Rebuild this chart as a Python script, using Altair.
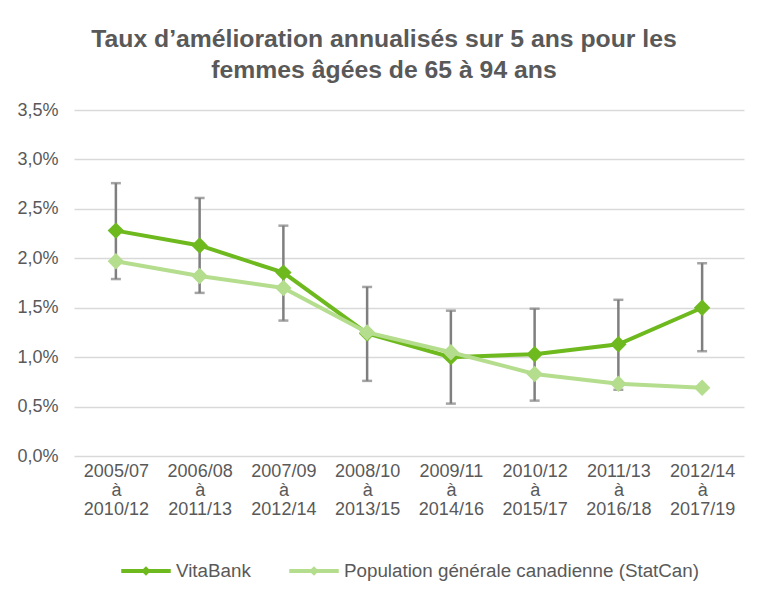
import altair as alt
import pandas as pd

categories = ["2005/07 à 2010/12", "2006/08 à 2011/13", "2007/09 à 2012/14", "2008/10 à 2013/15",
              "2009/11 à 2014/16", "2010/12 à 2015/17", "2011/13 à 2016/18", "2012/14 à 2017/19"]
vitabank = [2.28, 2.13, 1.855, 1.24, 1.00, 1.03, 1.13, 1.50]
vitabank_low = [1.79, 1.65, 1.37, 0.76, 0.53, 0.56, 0.67, 1.06]
vitabank_high = [2.76, 2.61, 2.33, 1.71, 1.47, 1.49, 1.58, 1.95]
population = [1.97, 1.82, 1.70, 1.25, 1.05, 0.83, 0.73, 0.69]

series_names = ["VitaBank", "Population générale canadienne (StatCan)"]
colors = ["#6DB91E", "#B5DD8E"]

rows = []
for c, v in zip(categories, vitabank):
    rows.append({"cat": c, "val": v, "serie": series_names[0]})
for c, v in zip(categories, population):
    rows.append({"cat": c, "val": v, "serie": series_names[1]})
df = pd.DataFrame(rows)
err = pd.DataFrame({"cat": categories, "lo": vitabank_low, "hi": vitabank_high})

FONT = "Liberation Sans"
GREY = "#595959"

x = alt.X("cat:N", sort=categories, title=None,
          scale=alt.Scale(type="point", padding=0.5),
          axis=alt.Axis(labelExpr="split(datum.label, ' ')", labelAngle=0, labelFont=FONT,
                        labelFontSize=18, labelColor=GREY, labelLineHeight=19, domain=False,
                        ticks=False, labelPadding=6, labelLimit=0))
y_axis = alt.Axis(values=[0, 0.5, 1, 1.5, 2, 2.5, 3, 3.5],
                  labelExpr="replace(format(datum.value, '.1f'), '.', ',') + '%'",
                  labelFont=FONT, labelFontSize=18, labelColor=GREY, domain=False, ticks=False,
                  gridColor="#D9D9D9", gridWidth=1.5, labelPadding=16)
yscale = alt.Scale(domain=[0, 3.5], nice=False)

color = alt.Color("serie:N", sort=series_names,
                  scale=alt.Scale(domain=series_names, range=colors),
                  legend=alt.Legend(orient="none", legendX=45, legendY=434,
                                    direction="horizontal", title=None,
                                    labelFont=FONT, labelFontSize=18.8, labelColor=GREY,
                                    labelLimit=0,
                                    symbolType="M-1,0L1,0M-0.08,0L0,-0.08L0.08,0L0,0.08Z",
                                    symbolSize=2450, symbolStrokeWidth=4, labelOffset=3,
                                    columnPadding=30))

base_err = alt.Chart(err)
rules = base_err.mark_rule(color="#7F7F7F", strokeWidth=2.5).encode(
    x=x, y=alt.Y("lo:Q", scale=yscale, axis=y_axis, title=None), y2="hi:Q")
caps_hi = base_err.mark_tick(color="#7F7F7F", thickness=2.5, size=10).encode(
    x=x, y=alt.Y("hi:Q", scale=yscale))
caps_lo = base_err.mark_tick(color="#7F7F7F", thickness=2.5, size=10).encode(
    x=x, y=alt.Y("lo:Q", scale=yscale))

layers = [rules, caps_hi, caps_lo]
for name in series_names:
    d = df[df.serie == name]
    base = alt.Chart(d)
    line = base.mark_line(strokeWidth=4).encode(
        x=x, y=alt.Y("val:Q", scale=yscale, axis=y_axis, title=None), color=color)
    pts = base.mark_point(shape="diamond", filled=True, size=270, opacity=1).encode(
        x=x, y=alt.Y("val:Q", scale=yscale), color=color)
    layers += [line, pts]

chart = alt.layer(*layers).properties(
    width=670, height=346,
    background="white",
    title=alt.TitleParams(
        text=["Taux d’amélioration annualisés sur 5 ans pour les", "femmes âgées de 65 à 94 ans"],
        font=FONT, fontSize=24.75, fontWeight="bold", color=GREY, anchor="middle",
        lineHeight=31, offset=18, dx=-25),
    padding={"left": 8, "top": 19, "right": 10, "bottom": 5},
).configure_view(strokeWidth=0)

chart.save("out.html", embed_options={"renderer": "svg", "actions": False})
